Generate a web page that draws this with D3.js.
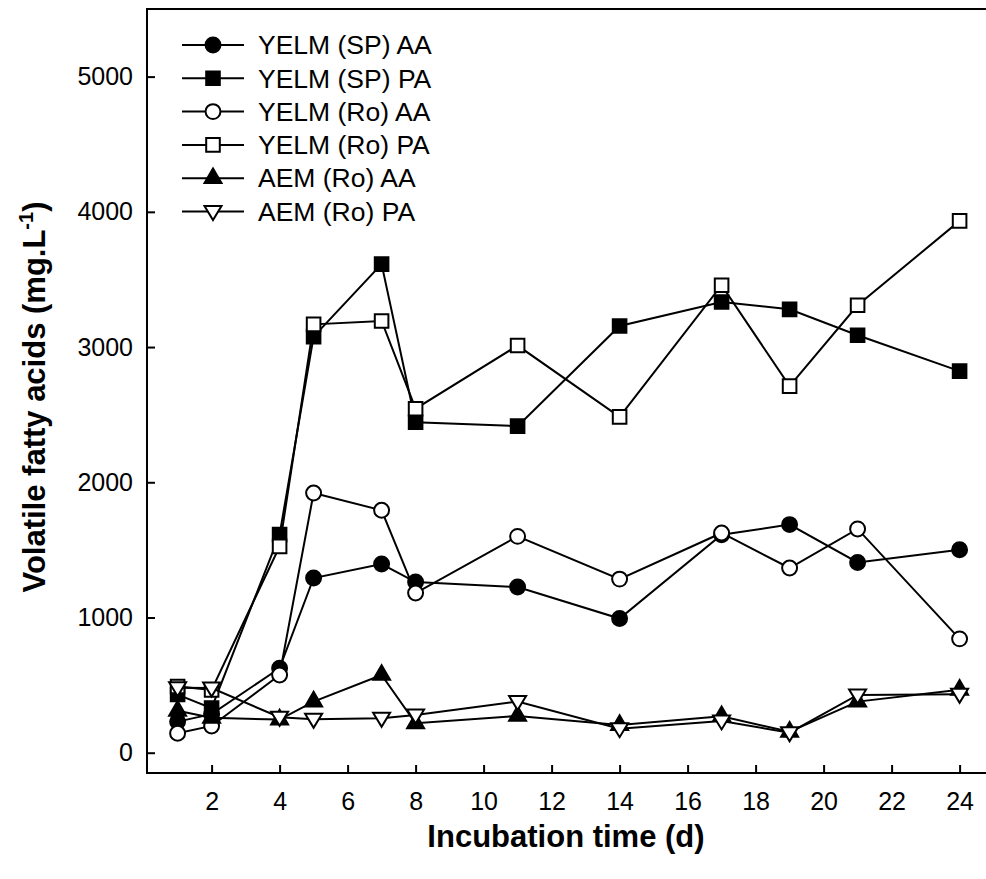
<!DOCTYPE html>
<html>
<head>
<meta charset="utf-8">
<script src="https://cdn.jsdelivr.net/npm/d3@7"></script>
<style>
  body { margin: 0; background: #fff; }
  text { font-family: Arial, 'Liberation Sans', sans-serif; }
</style>
</head>
<body>
<svg id="chart" width="986" height="879"></svg>
<script>
// incubation days and the six series (mg/L)
const days = [1, 2, 4, 5, 7, 8, 11, 14, 17, 19, 21, 24];
const spAA = [230, 285, 625, 1292, 1395, 1262, 1225, 992, 1612, 1687, 1407, 1501];
const spPA = [430, 330, 1613, 3077, 3613, 2444, 2415, 3156, 3333, 3279, 3087, 2822];
const roAA = [144, 198, 575, 1921, 1793, 1181, 1600, 1284, 1625, 1366, 1655, 842];
const roPA = [490, 465, 1526, 3168, 3193, 2544, 3011, 2484, 3457, 2711, 3309, 3933];
const aemAA = [310, 258, 245, 378, 575, 218, 272, 205, 270, 155, 378, 465];
const aemPA = [480, 478, 262, 247, 255, 279, 378, 178, 235, 148, 427, 432];

const seriesNames = ['YELM (SP) AA', 'YELM (SP) PA', 'YELM (Ro) AA', 'YELM (Ro) PA', 'AEM (Ro) AA', 'AEM (Ro) PA'];
const xTicks = [2, 4, 6, 8, 10, 12, 14, 16, 18, 20, 22, 24];
const yTicks = [0, 1000, 2000, 3000, 4000, 5000];

const series = [
  { name: seriesNames[0], values: spAA, shape: 'circle', fill: '#000' },
  { name: seriesNames[1], values: spPA, shape: 'square', fill: '#000' },
  { name: seriesNames[2], values: roAA, shape: 'circle', fill: '#fff' },
  { name: seriesNames[3], values: roPA, shape: 'square', fill: '#fff' },
  { name: seriesNames[4], values: aemAA, shape: 'triangle', fill: '#000' },
  { name: seriesNames[5], values: aemPA, shape: 'triangleDown', fill: '#fff' },
];

const svg = d3.select('#chart');
const plotLeft = 147, plotRight = 993.6, plotTop = 9, plotBottom = 773;

const x = d3.scaleLinear().domain([0.1, 25]).range([plotLeft, plotRight]);
const y = d3.scaleLinear().domain([-150, 5500]).range([plotBottom, plotTop]);

// frame (right edge falls just past the page, as in the original)
svg.append('rect')
  .attr('x', plotLeft)
  .attr('y', plotTop)
  .attr('width', plotRight - plotLeft)
  .attr('height', plotBottom - plotTop)
  .attr('fill', 'none')
  .attr('stroke', '#000')
  .attr('stroke-width', 2);

// ticks point inward
const xAxis = svg.append('g')
  .attr('transform', `translate(0,${plotBottom})`)
  .call(d3.axisBottom(x).tickValues(xTicks).tickSizeInner(-8).tickSizeOuter(0).tickPadding(19));
const yAxis = svg.append('g')
  .attr('transform', `translate(${plotLeft},0)`)
  .call(d3.axisLeft(y).tickValues(yTicks).tickFormat(d3.format('d')).tickSizeInner(-8).tickSizeOuter(0).tickPadding(14));

[xAxis, yAxis].forEach((g) => {
  g.select('.domain').remove();
  g.selectAll('.tick line').attr('stroke-width', 2);
  g.selectAll('.tick text')
    .attr('font-size', 25)
    .attr('fill', '#000')
    .style('font-family', "Arial, 'Liberation Sans', sans-serif");
});

const symbolPath = (shape) => {
  if (shape === 'circle') return d3.symbol().type(d3.symbolCircle).size(175)();
  if (shape === 'square') return d3.symbol().type(d3.symbolSquare).size(185)();
  if (shape === 'triangle') return d3.symbol().type(d3.symbolTriangle).size(125)();
  return 'M -8.5 -5.5 L 8.5 -5.5 L 0 8.5 Z';
};

const line = d3.line()
  .x((d) => x(d[0]))
  .y((d) => y(d[1]));

const plot = svg.append('g');
series.forEach((s) => {
  const pts = days.map((d, i) => [d, s.values[i]]);
  plot.append('path')
    .attr('d', line(pts))
    .attr('fill', 'none')
    .attr('stroke', '#000')
    .attr('stroke-width', 2);
  plot.append('g')
    .selectAll('path')
    .data(pts)
    .join('path')
    .attr('transform', (d) => `translate(${x(d[0])},${y(d[1])})`)
    .attr('d', symbolPath(s.shape))
    .attr('fill', s.fill)
    .attr('stroke', '#000')
    .attr('stroke-width', 2);
});

// legend
const legend = svg.append('g').attr('transform', 'translate(182,45)');
series.forEach((s, i) => {
  const row = legend.append('g').attr('transform', `translate(0,${i * 33.3})`);
  row.append('line')
    .attr('x1', 0)
    .attr('x2', 62)
    .attr('stroke', '#000')
    .attr('stroke-width', 2);
  row.append('path')
    .attr('transform', 'translate(31,0)')
    .attr('d', symbolPath(s.shape))
    .attr('fill', s.fill)
    .attr('stroke', '#000')
    .attr('stroke-width', 2);
  row.append('text')
    .attr('x', 76)
    .attr('dy', '0.35em')
    .attr('font-size', 26.5)
    .text(s.name);
});

// axis titles, centred on their axes
svg.append('text')
  .attr('x', 566)
  .attr('y', 847)
  .attr('text-anchor', 'middle')
  .attr('font-size', 31)
  .attr('font-weight', 'bold')
  .text('Incubation time (d)');

const yTitle = svg.append('text')
  .attr('transform', 'translate(45,397) rotate(-90)')
  .attr('text-anchor', 'middle')
  .attr('font-size', 31)
  .attr('font-weight', 'bold');
yTitle.append('tspan').text('Volatile fatty acids (mg.L');
yTitle.append('tspan').attr('font-size', 20).attr('dy', -12).text('-1');
yTitle.append('tspan').attr('dy', 12).text(')');
</script>
</body>
</html>
